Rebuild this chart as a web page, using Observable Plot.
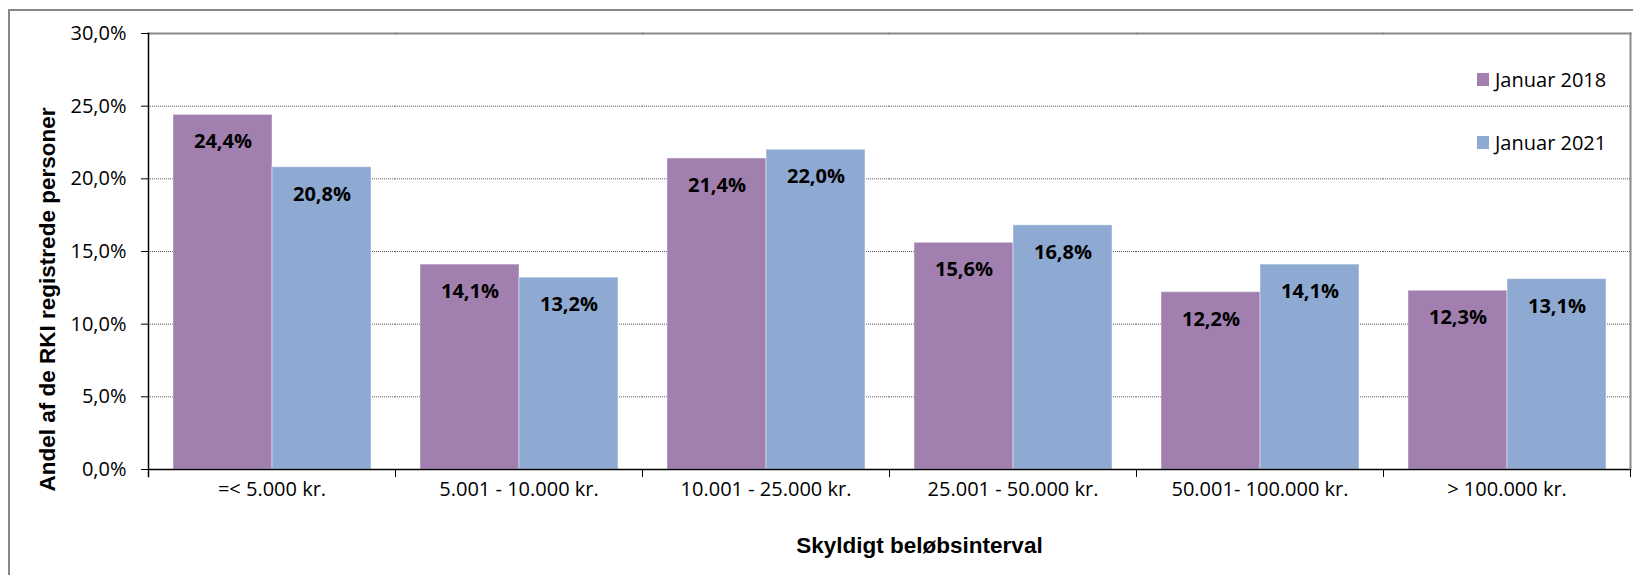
<!DOCTYPE html>
<html>
<head>
<meta charset="utf-8">
<script src="https://cdn.jsdelivr.net/npm/d3@7"></script>
<script src="https://cdn.jsdelivr.net/npm/@observablehq/plot@0.6"></script>
<style>
  html, body { margin: 0; padding: 0; background: #fff; }
  #chart { position: relative; width: 1633px; height: 575px; overflow: hidden; }
</style>
</head>
<body>
<div id="chart"></div>
<script>
// ---- data ----
const categories = ["=< 5.000 kr.", "5.001 - 10.000 kr.", "10.001 - 25.000 kr.", "25.001 - 50.000 kr.", "50.001- 100.000 kr.", "> 100.000 kr."];
const series = ["Januar 2018", "Januar 2021"];
const values2018 = [24.4, 14.1, 21.4, 15.6, 12.2, 12.3];
const values2021 = [20.8, 13.2, 22.0, 16.8, 14.1, 13.1];
const yTicks = [0, 5, 10, 15, 20, 25, 30];
const gridTicks = [5, 10, 15, 20, 25];
const colors = ["#a17fae", "#8eaad2"];
const yTitle = "Andel af de RKI registrede personer";
const xTitle = "Skyldigt beløbsinterval";

const data = [];
categories.forEach((c, i) => {
  data.push({cat: c, series: series[0], value: values2018[i]});
  data.push({cat: c, series: series[1], value: values2021[i]});
});
const fmt = d => d.toFixed(1).replace(".", ",") + "%";

// ---- layout ----
const W = 1633, H = 575;
const mL = 147, mR = 3, mT = 33, mB = 106;
const plotH = H - mT - mB;

const plot = Plot.plot({
  width: W,
  height: H,
  marginLeft: mL,
  marginRight: mR,
  marginTop: mT,
  marginBottom: mB,
  style: {fontFamily: "'Open Sans', sans-serif", color: "black", background: "white", overflow: "visible"},
  fx: {domain: categories, padding: 0, label: null},
  x: {domain: series, paddingInner: 0, paddingOuter: 0.24, axis: null},
  y: {domain: [0, 30], label: null},
  color: {domain: series, range: colors},
  marks: [
    Plot.gridY(gridTicks, {stroke: "#555", strokeOpacity: 1, strokeDasharray: "1,1", strokeWidth: 1}),
    Plot.barY(data, {fx: "cat", x: "series", y: "value", fill: "series", stroke: "#fff", strokeOpacity: 0.45, strokeWidth: 1}),
    Plot.text(data, {fx: "cat", x: "series", y: "value", text: d => fmt(d.value), dy: 27, fontWeight: "bold", fontSize: 20, fill: "black"}),
    Plot.ruleY([0], {stroke: "black", strokeWidth: 1.5}),
    Plot.frame({anchor: "top", stroke: "#8a8a8a", strokeWidth: 2}),
    Plot.frame({anchor: "right", stroke: "#8a8a8a", strokeWidth: 2, facetAnchor: "right"}),
    Plot.frame({anchor: "left", stroke: "black", strokeWidth: 1.5, facetAnchor: "left", insetBottom: -7}),
    Plot.frame({anchor: "right", stroke: "black", strokeWidth: 1, insetTop: plotH, insetBottom: -7}),
    Plot.axisY({ticks: yTicks, tickFormat: fmt, tickSize: 7, tickPadding: 15, fontSize: 20, label: null, stroke: "black"}),
    Plot.axisFx({anchor: "bottom", tickSize: 0, tickPadding: 12, fontSize: 20, label: null})
  ]
});

const svg = d3.select(plot);
// outer chart border (left & top visible)
svg.append("path")
  .attr("d", `M9,${H} L9,10 L${W},10`)
  .attr("fill", "none").attr("stroke", "#878787").attr("stroke-width", 2);

// axis titles
svg.append("text")
  .attr("transform", "translate(55,299.5) rotate(-90)")
  .attr("text-anchor", "middle")
  .attr("font-family", "'Liberation Sans', Arial, sans-serif")
  .attr("font-weight", "bold").attr("font-size", 22.5).attr("fill", "black")
  .text(yTitle);
svg.append("text")
  .attr("x", 919.5).attr("y", 553)
  .attr("text-anchor", "middle")
  .attr("font-family", "'Liberation Sans', Arial, sans-serif")
  .attr("font-weight", "bold").attr("font-size", 22.5).attr("fill", "black")
  .text(xTitle);

// legend
const color = plot.scale("color");
const leg = svg.append("g").attr("font-family", "'Open Sans', sans-serif").attr("font-size", 20).attr("text-anchor", "start");
color.domain.forEach((s, i) => {
  const cy = 79.5 + i * 63;
  leg.append("rect").attr("x", 1477).attr("y", cy - 6.5).attr("width", 12).attr("height", 13).attr("fill", color.range[i]);
  leg.append("text").attr("x", 1495).attr("y", cy).attr("dy", "0.35em").attr("text-anchor", "start").attr("fill", "black").text(s);
});

document.getElementById("chart").appendChild(plot);
</script>
</body>
</html>
